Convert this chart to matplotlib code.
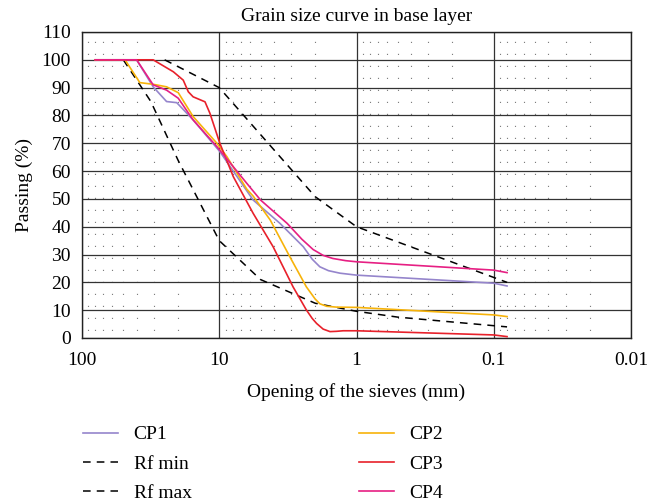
import numpy as np
import matplotlib
matplotlib.use("Agg")
from matplotlib import pyplot as plt
from matplotlib.ticker import FixedLocator, NullFormatter

plt.rcParams['font.family'] = ['Liberation Serif', 'DejaVu Serif']

# sieve openings (mm) and passing (%)
cp1_x = [80, 40, 30.3, 24.2, 20.4, 15.5, 9.9, 5.66, 3.61, 2.44, 2.1, 1.85, 1.6, 1.32, 1.0, 0.1, 0.08]
cp1_y = [100, 100, 90.3, 85, 84.6, 78.4, 67, 49.6, 41.2, 32.8, 28.3, 25.6, 24.2, 23.3, 22.6, 19.7, 18.7]

cp2_x = [80, 48.6, 37.9, 30.3, 24.2, 19.9, 15.5, 10.4, 8.8, 6.3, 5.66, 4.25, 3.06, 2.32, 2.0, 1.85, 1.65, 1.4, 1.0, 0.1, 0.08]
cp2_y = [100, 100, 91.8, 91.2, 90.3, 88.2, 79.6, 70, 65.2, 53.5, 51, 42.4, 29.2, 18.4, 14.0, 12.3, 11.4, 11.1, 11.0, 8.3, 7.7]

cp3_x = [80, 30.3, 21.6, 18.3, 16.8, 15.5, 12.7, 11.7, 9.9, 7.9, 5.66, 4.05, 2.9, 2.32, 2.1, 1.95, 1.75, 1.56, 1.4, 1.25, 1.0, 0.1, 0.08]
cp3_y = [100, 100, 95.7, 92.7, 88.5, 86.7, 84.9, 80.8, 70, 58, 44.8, 32.8, 18.4, 10.1, 7.0, 5.2, 3.2, 2.3, 2.4, 2.6, 2.6, 1.1, 0.5]

cp4_x = [80, 40, 30.3, 24.2, 19.9, 15.5, 10.4, 6.3, 5.0, 3.2, 2.5, 2.07, 1.75, 1.49, 1.2, 1.0, 0.1, 0.08]
cp4_y = [100, 100, 91, 89.1, 86.2, 78.4, 68.8, 55.6, 49.6, 41.2, 35.5, 31.8, 29.7, 28.6, 27.8, 27.4, 24.4, 23.5]

rfmin_x = [50, 31.5, 20, 10, 5, 2, 1, 0.5, 0.08]
rfmin_y = [100, 85, 64, 35, 21, 12.5, 9.6, 7.5, 4]

rfmax_x = [25, 10, 2, 1, 0.08]
rfmax_y = [100, 90, 50.8, 40, 20]

major_x = [100, 10, 1, 0.1, 0.01]
major_labels = ["100", "10", "1", "0.1", "0.01"]
y_ticks = list(range(0, 111, 10))

fig = plt.figure(figsize=(6.65, 5.01), dpi=100)
ax = fig.add_axes([82 / 665, 163 / 501, 549 / 665, 306 / 501])

ax.set_xscale('log')
ax.set_xlim(100, 0.01)
ax.set_ylim(0, 110)

ax.plot(cp1_x, cp1_y, color='#9585cc', lw=1.2, label='CP1', zorder=3)
ax.plot(rfmin_x, rfmin_y, color='black', lw=1.1, ls=(0, (5, 4)), label='Rf min', zorder=3)
ax.plot(rfmax_x, rfmax_y, color='black', lw=1.1, ls=(0, (5, 4)), label='Rf max', zorder=3)
ax.plot(cp2_x, cp2_y, color='#f7b30a', lw=1.2, label='CP2', zorder=3)
ax.plot(cp3_x, cp3_y, color='#e8212b', lw=1.2, label='CP3', zorder=3)
ax.plot(cp4_x, cp4_y, color='#e61f83', lw=1.2, label='CP4', zorder=3)

# grid
ax.xaxis.set_major_locator(FixedLocator(major_x))
ax.set_xticklabels(major_labels)
minors = [m * 10.0 ** e for e in range(-2, 2) for m in range(2, 10)]
ax.xaxis.set_minor_locator(FixedLocator(minors))
ax.xaxis.set_minor_formatter(NullFormatter())
ax.set_yticks(y_ticks)
ax.grid(which='major', color='#333333', lw=0.9)
ax.grid(which='minor', axis='x', color='#777777', lw=0.8, ls=(4, (1, 9.8)))
ax.tick_params(which='both', length=0, labelsize=14, colors='black')
ax.tick_params(axis='x', pad=10)
ax.tick_params(axis='y', pad=8)
for s in ax.spines.values():
    s.set_color('#222222')
    s.set_linewidth(1.0)

ax.set_title("Grain size curve in base layer", fontsize=14, pad=8)
ax.set_xlabel("Opening of the sieves (mm)", fontsize=14, labelpad=10)
ax.set_ylabel("Passing (%)", fontsize=14, labelpad=6)

ax.legend(loc='upper left', bbox_to_anchor=(-0.03, -0.23), ncol=2, frameon=False,
          fontsize=14, handlelength=1.8, columnspacing=8.6, labelspacing=0.6,
          handletextpad=0.8)

fig.savefig('out.png', dpi=100)
